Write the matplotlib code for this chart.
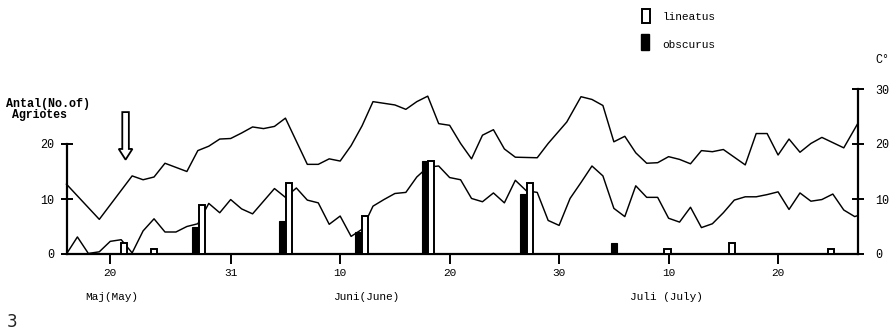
import matplotlib
matplotlib.use("Agg")
import matplotlib.pyplot as plt
from matplotlib.patches import Rectangle, FancyArrow

# ---- data (days numbered from 1 May; 1 June = 32, 1 July = 62) ----
upper_days = [16, 19, 22, 23, 24, 25, 27, 28, 29, 30, 31, 32, 33, 34, 35, 36, 38, 39, 40, 41,
              42, 43, 44, 46, 47, 48, 49, 50, 51, 52, 53, 54, 55, 56, 57, 59, 60, 61.7, 63, 64,
              65, 66, 67, 68, 69, 70, 71, 72, 73, 74, 75, 76, 78, 79, 80, 81, 82, 83, 84, 85,
              87, 88.3]
upper_temp = [12.7, 6.3, 14.2, 13.5, 14.0, 16.5, 15.0, 18.8, 19.6, 20.9, 21.0, 22.0, 23.1, 22.8,
              23.2, 24.7, 16.3, 16.3, 17.3, 16.9, 19.7, 23.3, 27.7, 27.1, 26.3, 27.7, 28.7, 23.7,
              23.4, 20.1, 17.3, 21.6, 22.6, 19.1, 17.6, 17.5, 20.1, 24.0, 28.6, 28.1, 27.0, 20.4,
              21.4, 18.4, 16.5, 16.6, 17.7, 17.2, 16.4, 18.8, 18.6, 19.0, 16.2, 21.9, 21.9, 18.0,
              20.9, 18.5, 20.1, 21.2, 19.3, 23.8]

lower_days = [16, 17, 18, 19, 20, 21, 22, 23, 24, 25, 26, 27, 28, 29, 30, 31, 32, 33, 34, 35,
              36, 37, 38, 39, 40, 41, 42, 43, 44, 45, 46, 47, 48, 49, 50, 51, 52, 53, 54, 55,
              56, 57, 58, 59, 60, 61, 62, 63, 64, 65, 66, 67, 68, 69, 70, 71, 72, 73, 74, 75,
              76, 77, 78, 79, 80, 81, 82, 83, 84, 85, 86, 87, 88, 88.3]
lower_temp = [0.0, 3.1, 0.1, 0.4, 2.3, 2.6, 0.2, 4.2, 6.4, 4.0, 4.0, 5.0, 5.5, 9.2, 7.5, 9.9,
              8.2, 7.3, 9.6, 11.9, 10.3, 12.0, 9.8, 9.3, 5.4, 6.9, 3.2, 4.5, 8.7, 9.9, 11.0, 11.2,
              14.0, 15.8, 16.0, 13.9, 13.5, 10.1, 9.5, 11.1, 9.3, 13.4, 11.5, 11.2, 6.1, 5.2,
              10.1, 13.0, 16.0, 14.2, 8.3, 6.8, 12.4, 10.3, 10.3, 6.5, 5.8, 8.5, 4.8, 5.5, 7.5,
              9.8, 10.4, 10.4, 10.8, 11.3, 8.1, 11.1, 9.6, 9.9, 10.9, 8.0, 6.8, 7.0]

lineatus_days = [21.3, 24.0, 28.4, 36.3, 43.3, 49.3, 58.3, 70.9, 76.8, 85.8]
lineatus_n = [2, 1, 9, 13, 7, 17, 13, 1, 2, 1]
obscurus_days = [27.8, 35.75, 42.7, 48.8, 57.7, 66.0]
obscurus_n = [5, 6, 4, 17, 11, 2]

xtick_days = [20, 31, 41, 51, 61, 71, 81]
xtick_labels = ["20", "31", "10", "20", "30", "10", "20"]
month_labels = ["Maj(May)", "Juni(June)", "Juli (July)"]
left_ticks = [0, 10, 20]
right_ticks = [0, 10, 20, 30]

# ---- figure ----
W, H = 893, 335
fig = plt.figure(figsize=(W / 100, H / 100), dpi=100)
fig.patch.set_facecolor("white")
MONO = ["Liberation Mono", "DejaVu Sans Mono"]

def fx(px):
    return px / W

def fy(py):
    return 1 - py / H

ax = fig.add_axes([fx(67), fy(254), (858 - 67) / W, 165 / H])
ax.set_xlim(16.05, 88.3)
ax.set_ylim(0, 30)

ax.plot(upper_days, upper_temp, color="black", lw=1.05, zorder=2, clip_on=False)
ax.plot(lower_days, lower_temp, color="black", lw=1.05, zorder=2, clip_on=False)

ax.bar(obscurus_days, obscurus_n, width=0.6, color="black", edgecolor="black",
       linewidth=0.8, zorder=3)
ax.bar(lineatus_days, lineatus_n, width=0.55, facecolor="white", edgecolor="black",
       linewidth=1.4, zorder=3)

# hollow arrow
arr = FancyArrow(21.4, 25.8, 0, -6.7, width=0.6, head_width=1.25, head_length=1.95,
                 length_includes_head=False, facecolor="white", edgecolor="black",
                 linewidth=1.3, zorder=4, clip_on=False)
ax.add_patch(arr)

ax.spines["top"].set_visible(False)
ax.spines["right"].set_visible(False)
ax.spines["left"].set_bounds(0, 20)
ax.spines["left"].set_linewidth(1.6)
ax.spines["bottom"].set_linewidth(1.6)

ax.set_xticks(xtick_days)
ax.set_xticklabels(xtick_labels, fontfamily=MONO, fontsize=8)
ax.tick_params(axis="x", direction="out", length=7, width=1.4, pad=3)

ax.set_yticks(left_ticks)
ax.set_yticklabels([str(t) for t in left_ticks], fontfamily=MONO, fontsize=8.5)
ax.tick_params(axis="y", direction="inout", length=9, width=1.4, pad=5)

ax2 = ax.twinx()
ax2.set_ylim(0, 30)
for s in ["top", "left", "bottom"]:
    ax2.spines[s].set_visible(False)
ax2.spines["right"].set_bounds(0, 30)
ax2.spines["right"].set_linewidth(1.6)
ax2.set_yticks(right_ticks)
ax2.set_yticklabels([str(t) for t in right_ticks], fontfamily=MONO, fontsize=8.5)
ax2.tick_params(axis="y", direction="inout", length=9, width=1.4, pad=8)

# axis titles / month labels
fig.text(fx(5.5), fy(103.5), "Antal(No.of)", fontfamily=MONO, fontsize=8.5,
         fontweight="bold", ha="left", va="center")
fig.text(fx(12), fy(115.5), "Agriotes", fontfamily=MONO, fontsize=8.3,
         fontweight="bold", ha="left", va="center")
fig.text(fx(882), fy(60), "C°", fontfamily=MONO, fontsize=8.5, ha="center", va="center")

for lab, px in zip(month_labels, [111.5, 367, 666]):
    fig.text(fx(px), fy(297), lab, fontfamily=MONO, fontsize=8, ha="center", va="center")

fig.text(fx(12), fy(322), "3", fontsize=12, ha="center", va="center", color="#222222")

# legend
fig.patches.append(Rectangle((fx(641.7), fy(23.3)), 8 / W, 14 / H, transform=fig.transFigure,
                             facecolor="white", edgecolor="black", linewidth=1.4))
fig.patches.append(Rectangle((fx(641), fy(50)), 7.5 / W, 16 / H, transform=fig.transFigure,
                             facecolor="black", edgecolor="black", linewidth=1.0))
fig.text(fx(662.7), fy(17.5), "lineatus", fontfamily=MONO, fontsize=8, ha="left", va="center")
fig.text(fx(662.7), fy(45), "obscurus", fontfamily=MONO, fontsize=8, ha="left", va="center")

fig.savefig("out.png", dpi=100, facecolor="white")
